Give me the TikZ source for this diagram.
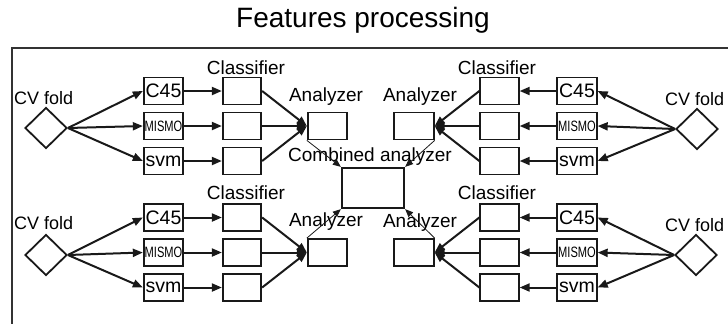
\documentclass[tikz,border=0pt]{standalone}
\usepackage{fontspec}
\setmainfont{Liberation Sans}
\usetikzlibrary{arrows.meta,shapes.geometric}
\newcommand{\mismotext}{\scalebox{0.74}[1]{\fontsize{15bp}{15bp}\selectfont MISMO}}
\tikzset{
  box/.style={draw=black!90, line width=1.8bp, inner sep=0pt},
  algbox/.style={box, minimum width=39.5bp, minimum height=27bp, font=\fontsize{19.5bp}{19.5bp}\selectfont},
  clsbox/.style={box, minimum width=38.5bp, minimum height=27bp},
  anabox/.style={box, minimum width=39.5bp, minimum height=27bp},
  combbox/.style={box, minimum width=62.5bp, minimum height=40.5bp},
  foldshape/.style={draw=black!90, line width=1.8bp, diamond, aspect=1, inner sep=0pt,
    minimum width=42bp, minimum height=41bp},
  lbl/.style={inner sep=0pt, text=black, font=\fontsize{19bp}{19bp}\selectfont},
  cvlbl/.style={inner sep=0pt, text=black, font=\fontsize{18bp}{18bp}\selectfont},
  arr/.style={draw=black!90, line width=2bp, -{Triangle[length=10bp,width=8bp]}},
  thinarr/.style={draw=black!90, line width=0.8bp, -{Triangle[length=8bp,width=6.5bp]}},
  frameline/.style={draw=black!80, line width=2.2bp}
}
\begin{document}
\begin{tikzpicture}[x=1bp,y=-1bp]
\useasboundingbox (0,0) rectangle (728,324);

% title and frame
\node[lbl, font=\fontsize{28bp}{28bp}\selectfont, anchor=base] (title) at (363,27) {Features processing};
\coordinate (fr1) at (728,48);
\coordinate (fr2) at (12,48);
\coordinate (fr3) at (12,324);
\draw[frameline] (fr1) -- (fr2) -- (fr3);

% folds feeding the classifiers from the left
\foreach \p/\ya/\yd/\ycv/\ycl/\yan in {tl/91/128/104/74/101, bl/217.5/255/229/199/226} {
  \node[foldshape] (\p d) at (46,\yd) {};
  \node[cvlbl, anchor=base west] (\p cv) at (14,\ycv) {CV fold};
  \node[algbox] (\p a1) at (163.5,\ya) {C45};
  \node[algbox] (\p a2) at (163.5,\ya+35) {\mismotext};
  \node[algbox] (\p a3) at (163.5,\ya+70) {svm};
  \node[clsbox] (\p c1) at (242,\ya) {};
  \node[clsbox] (\p c2) at (242,\ya+35) {};
  \node[clsbox] (\p c3) at (242,\ya+70) {};
  \node[lbl, anchor=base] (\p cl) at (246,\ycl) {Classifier};
  \node[anabox] (\p an) at (327.5,\ya+35) {};
  \node[lbl, anchor=base] (\p al) at (326,\yan) {Analyzer};
  \foreach \i in {1,2,3} {
    \draw[arr] (\p d.east) -- (\p a\i.west);
    \draw[arr] (\p a\i) -- (\p c\i);
    \draw[arr] (\p c\i.east) -- (\p an.west);
  }
}

% folds feeding the classifiers from the right
\foreach \p/\ya/\xd/\yd/\ycv/\ycl/\yan in {tr/91/697/129/105/74/101, br/217.5/696/255/231/199/227} {
  \node[foldshape] (\p d) at (\xd,\yd) {};
  \node[cvlbl, anchor=base west] (\p cv) at (665,\ycv) {CV fold};
  \node[algbox] (\p a1) at (577,\ya) {C45};
  \node[algbox] (\p a2) at (577,\ya+35) {\mismotext};
  \node[algbox] (\p a3) at (577,\ya+70) {svm};
  \node[clsbox] (\p c1) at (499.5,\ya) {};
  \node[clsbox] (\p c2) at (499.5,\ya+35) {};
  \node[clsbox] (\p c3) at (499.5,\ya+70) {};
  \node[lbl, anchor=base] (\p cl) at (497,\ycl) {Classifier};
  \node[anabox] (\p an) at (414,\ya+35) {};
  \node[lbl, anchor=base] (\p al) at (420,\yan) {Analyzer};
  \foreach \i in {1,2,3} {
    \draw[arr] (\p d.west) -- (\p a\i.east);
    \draw[arr] (\p a\i) -- (\p c\i);
    \draw[arr] (\p c\i.west) -- (\p an.east);
  }
}

% combined analyzer
\node[combbox] (cb) at (373,188) {};
\node[lbl, anchor=base] (cbl) at (370,161) {Combined analyzer};
\draw[thinarr] (tlan.south west) -- (cb.north west);
\draw[thinarr] (tran.south east) -- (cb.north east);
\draw[thinarr] (blan.north west) -- (cb.south west);
\draw[thinarr] (bran.north east) -- (cb.south east);
\end{tikzpicture}
\end{document}
